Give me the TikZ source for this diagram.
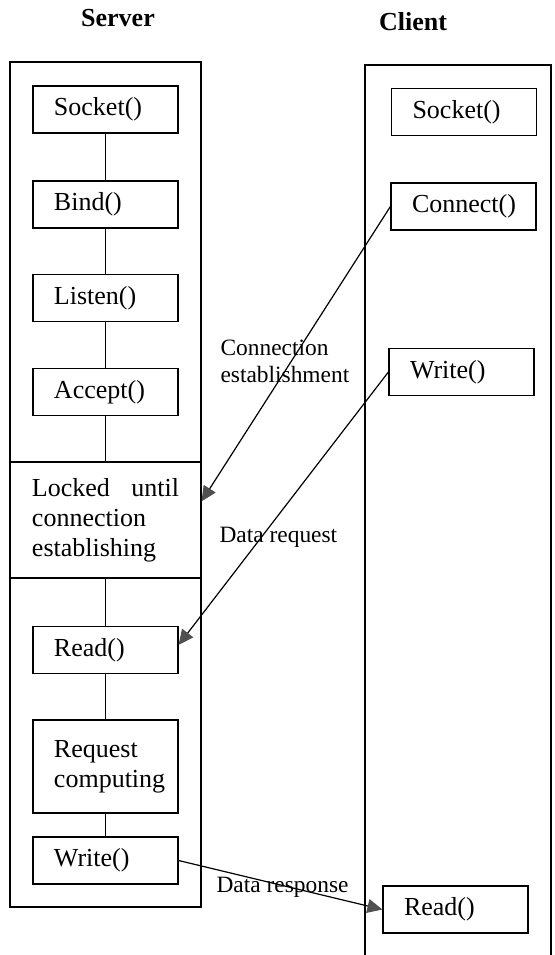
\documentclass[tikz,border=0pt]{standalone}
\usepackage{fontspec}
\setmainfont{Liberation Serif}
\usetikzlibrary{arrows.meta}
\definecolor{tipgray}{HTML}{505050}

\begin{document}
\begin{tikzpicture}[x=0.5pt,y=-0.5pt,line width=0.6pt,>={Triangle[length=7.5pt,width=7pt,color=tipgray]},
  font=\fontsize{13}{15}\selectfont,
  fnbox/.style={draw,align=left,text width=51.5pt,inner xsep=10.5pt,minimum height=23.5pt},
  lockbox/.style={draw,align=left,text width=73.5pt,inner xsep=11pt,minimum height=58pt},
  msg/.style={align=left,anchor=west,inner sep=0pt,font=\fontsize{11.7}{13.5}\selectfont}]
\useasboundingbox (0,0) rectangle (555,955);
% Titles
\node[font=\fontsize{13}{15}\selectfont\bfseries] (srvt) at (118,18) {Server};
\node[font=\fontsize{13}{15}\selectfont\bfseries] (clit) at (413,22) {Client};
% Server side
\draw (10,62) rectangle (201,907);
\node[fnbox] (ssock) at (105.5,109.5) {Socket()};
\node[fnbox] (sbind) at (105.5,204.5) {Bind()};
\node[fnbox] (slist) at (105.5,298) {Listen()};
\node[fnbox] (sacc) at (105.5,392) {Accept()};
\node[lockbox] (lock) at (105.5,520) {Locked\hfill until\\connection\\establishing};
\node[fnbox] (sread) at (105.5,650) {Read()};
\node[fnbox,minimum height=46.5pt] (scomp) at (105.5,766.5) {Request\\computing};
\node[fnbox] (swrite) at (105.5,860.5) {Write()};
\draw (ssock) -- (sbind);
\draw (sbind) -- (slist);
\draw (slist) -- (sacc);
\draw (sacc) -- (lock);
\draw (lock) -- (sread);
\draw (sread) -- (scomp);
\draw (scomp) -- (swrite);
% Client side
\draw (365,955) -- (365,65) -- (551,65) -- (551,955);
\node[fnbox] (csock) at (464,112) {Socket()};
\node[fnbox] (cconn) at (463.5,206.5) {Connect()};
\node[fnbox] (cwrite) at (461.5,372) {Write()};
\node[fnbox] (cread) at (455.5,909.5) {Read()};
% Messages
\draw[->] (cconn.west) -- (lock.11);
\draw[->] (cwrite.west) -- (sread.4);
\draw[->] (swrite.east) -- (cread.west);
\node[msg] (lconn) at (220,361) {Connection\\establishment};
\node[msg] (lreq) at (219,537) {Data request};
\node[msg] (lresp) at (216,887) {Data response};
\end{tikzpicture}
\end{document}
